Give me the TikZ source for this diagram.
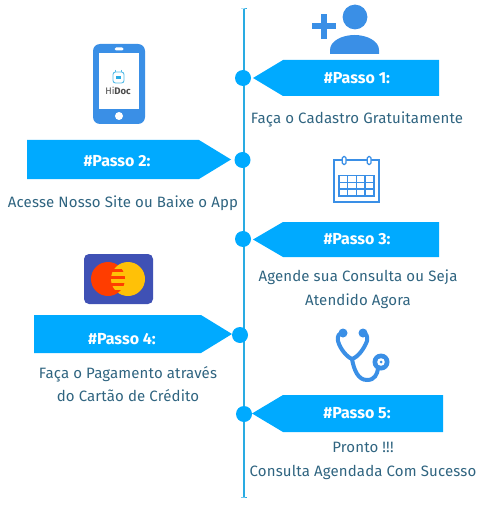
\documentclass[tikz,border=0pt]{standalone}
\usepackage{fontspec}
\usepackage{xcolor}
\usetikzlibrary{arrows.meta,positioning,calc}
\setmainfont{Fira Sans}
\newfontfamily\stepfont[LetterSpace=1]{Fira Sans}
\definecolor{StepBlue}{RGB}{0,170,255}
\definecolor{LineBlue}{RGB}{41,171,226}
\definecolor{IconBlue}{RGB}{58,143,230}
\definecolor{TextTeal}{RGB}{47,100,128}
\definecolor{CardBlue}{RGB}{63,81,181}
\definecolor{CardRed}{RGB}{255,61,0}
\definecolor{CardYellow}{RGB}{255,193,7}
\begin{document}
\begin{tikzpicture}[
    x=1pt,y=-1pt,
    stepbar/.style={fill=StepBlue},
    stepdot/.style={circle,fill=StepBlue,minimum size=16pt,inner sep=0pt},
    steptitle/.style={font=\fontsize{16}{18}\bfseries\selectfont,text=white,inner sep=0pt},
    steptext/.style={font=\stepfont\fontsize{15}{23.5}\selectfont,text=TextTeal,align=center,inner sep=0pt},
    timeline/.style={LineBlue,line width=2pt},
    icon/.style={fill=IconBlue},
    iconline/.style={draw=IconBlue,line width=1.5pt}
  ]
    \useasboundingbox (0,0) rectangle (482,513);
    % timeline
    \coordinate (linetop) at (244,9);
    \coordinate (linebottom) at (244,497);
    \draw[timeline] (linetop) -- (linebottom);
    \draw[LineBlue,line width=1pt] (241,9) -- (linetop) -- (247,9);
    \draw[LineBlue,line width=1pt] (241,497) -- (linebottom) -- (247,497);
    \node[stepdot] (dot1) at (243,78) {};
    \node[stepdot] (dot2) at (242.5,160) {};
    \node[stepdot] (dot3) at (243,239) {};
    \node[stepdot] (dot4) at (240,335) {};
    \node[stepdot] (dot5) at (244,414) {};
    % step bars
    \fill[stepbar] (253,78) -- (283,60) -- (439,60) -- (439,96) -- (283,96) -- cycle;
    \fill[stepbar] (231,159.5) -- (199,140) -- (27,140) -- (27,179) -- (199,179) -- cycle;
    \fill[stepbar] (253,239.5) -- (283,222) -- (439,222) -- (439,257) -- (283,257) -- cycle;
    \fill[stepbar] (232,334) -- (201,315) -- (34,315) -- (34,353) -- (201,353) -- cycle;
    \fill[stepbar] (252,413.5) -- (283,395) -- (443,395) -- (443,432) -- (283,432) -- cycle;
    \node[steptitle] (title1) at (357,78) {\#Passo 1:};
    \node[steptitle] (title2) at (117,161) {\#Passo 2:};
    \node[steptitle] (title3) at (357,239) {\#Passo 3:};
    \node[steptitle] (title4) at (122,339) {\#Passo 4:};
    \node[steptitle] (title5) at (357,413) {\#Passo 5:};
    % descriptions
    \node[steptext] (text1) at (357,119) {Faça o Cadastro Gratuitamente};
    \node[steptext] (text2) at (123,203) {Acesse Nosso Site ou Baixe o App};
    \node[steptext] (text3) at (358,289) {Agende sua Consulta ou Seja\\Atendido Agora};
    \node[steptext] (text4) at (128,384) {Faça o Pagamento através\\do Cartão de Crédito};
    \node[steptext] (text5) at (363,461) {Pronto !!!\\Consulta Agendada Com Sucesso};
    % user icon
    \fill[icon] (355,17) circle (12.4pt);
    \fill[icon] (330,54) -- (330,50) .. controls (330,41) and (342,35) .. (354.5,35)
      .. controls (367,35) and (379,41) .. (379,50) -- (379,54) -- cycle;
    \fill[icon] (312,23.5) rectangle (336,29);
    \fill[icon] (321.2,14) rectangle (326.8,39);
    % phone icon
    \fill[icon,rounded corners=7pt] (93,44) rectangle (145,124);
    \fill[white] (99,53) rectangle (139,109);
    \fill[white,rounded corners=1.5pt] (114.5,47.5) rectangle (123.5,50.5);
    \fill[white] (119,116) circle (4pt);
    \draw[draw=LineBlue!80,line width=0.9pt,rounded corners=2.5pt] (113,72) rectangle (124,83);
    \draw[LineBlue!80,line width=0.9pt] (115.5,70) -- (115.5,72) (121.5,70) -- (121.5,72);
    \fill[LineBlue] (115.5,76) rectangle (120.5,79);
    \node[font=\fontsize{9.5}{11}\selectfont,text=black!70,inner sep=0pt] (logo) at (118,91) {Hi\textbf{Doc}};
    % calendar icon
    \draw[iconline] (334,160) rectangle (379,202);
    \fill[white] (342,156) rectangle (346,165);
    \fill[white] (367,156) rectangle (371,165);
    \draw[draw=IconBlue,line width=1.2pt,fill=white,rounded corners=1.5pt] (342.2,156.5) rectangle (346,164.5);
    \draw[draw=IconBlue,line width=1.2pt,fill=white,rounded corners=1.5pt] (367.2,156.5) rectangle (371,164.5);
    \draw[iconline] (339,175.5) rectangle (374,196);
    \draw[iconline] (339,182.3) -- (374,182.3) (339,189.2) -- (374,189.2);
    \draw[iconline] (347.7,175.5) -- (347.7,196) (356.5,175.5) -- (356.5,196) (365.2,175.5) -- (365.2,196);
    % card icon
    \fill[CardBlue,rounded corners=5pt] (84,254) rectangle (153,304);
    \fill[CardRed] (108,279) circle (17pt);
    \fill[CardYellow] (128,279) circle (17pt);
    \begin{scope}
      \clip (108,279) circle (17pt);
      \fill[CardRed] (108,268.5) rectangle (130,271.5);
      \fill[CardRed] (108,275.5) rectangle (130,278.5);
      \fill[CardRed] (108,282.5) rectangle (130,285.5);
      \fill[CardRed] (108,289.5) rectangle (130,292.5);
    \end{scope}
    % stethoscope icon
    \draw[IconBlue,line width=4pt,line cap=round] (343,333) .. controls (339,333) and (337,336) .. (338,341)
      .. controls (340,349) and (347,357) .. (352,359) .. controls (358,357) and (364,349) .. (367,341)
      .. controls (368,336) and (366,333) .. (363,333);
    \draw[IconBlue,line width=4pt] (352,359) .. controls (354,370) and (358,380) .. (367,380)
      .. controls (375,380) and (377,374) .. (378,369);
    \fill[IconBlue] (343,333) circle (4.5pt);
    \fill[IconBlue] (363,333) circle (4.5pt);
    \fill[IconBlue] (381,362) circle (8.5pt);
    \fill[white] (381,362) circle (3.8pt);
    \fill[IconBlue] (381,362) circle (1.5pt);
  \end{tikzpicture}
\end{document}
